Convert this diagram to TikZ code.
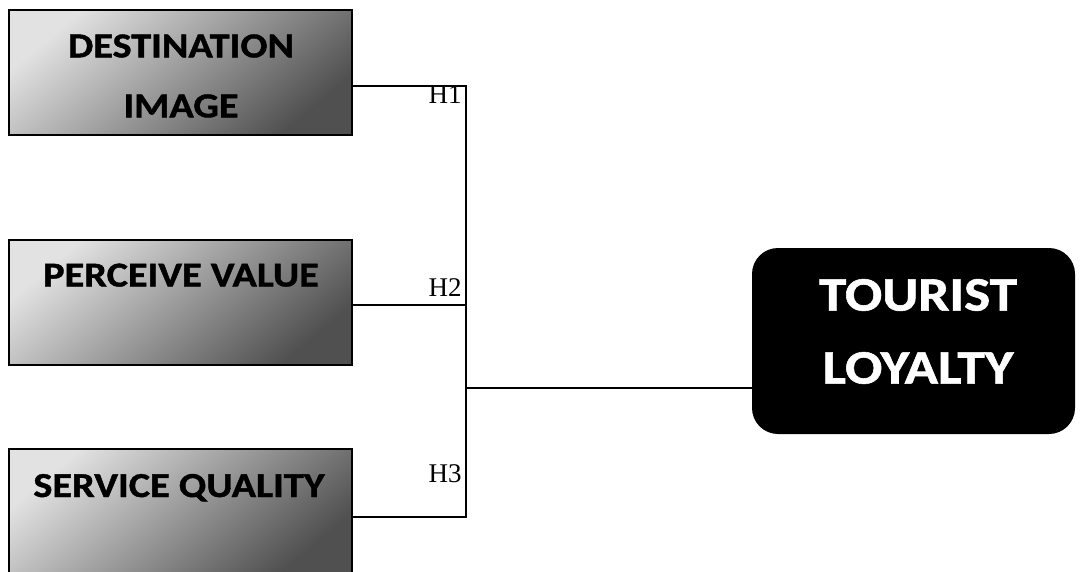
\documentclass[tikz,border=0pt]{standalone}
\usepackage{fontspec}
\usepackage{tikz}
\newfontfamily\boxfont[FakeStretch=1.15,BoldFeatures={FakeBold=1.2}]{Carlito}
\newfontfamily\hfont{Liberation Serif}
\definecolor{shadelo}{RGB}{226,226,226}
\definecolor{shadehi}{RGB}{80,80,80}

\begin{document}
\begin{tikzpicture}[x=.5pt,y=-.5pt,
  factor/.style={draw,line width=1pt,minimum width=171.5pt,minimum height=62.5pt,inner sep=0,
    left color=shadelo,middle color=shadelo!92!black,right color=shadehi,shading angle=40},
  factortxt/.style={font={\boxfont\bfseries\fontsize{17.5}{30}\selectfont},align=center,inner sep=0},
  hyp/.style={font={\hfont\fontsize{13.5}{14}\selectfont},inner sep=0,anchor=east},
  link/.style={line width=1pt}]
\useasboundingbox (0,0) rectangle (1080,572);
\node[factor] (img) at (180.5,72.5) {};
\node[factor] (val) at (180.5,302.5) {};
\node[factor] (svc) at (180,511) {};
\node[factortxt] (imgtxt) at (181,76) {DESTINATION\\IMAGE};
\node[factortxt,anchor=base] (valtxt) at (181,286.5) {PERCEIVE VALUE};
\node[factortxt,anchor=base] (svctxt) at (179,497) {SERVICE QUALITY};
\node[fill=black,rounded corners=13pt,minimum width=161.5pt,minimum height=93pt] (loy) at (913.5,341) {};
\node[font={\boxfont\bfseries\fontsize{24}{36.5}\selectfont},text=white,align=center,inner sep=0] (loytxt) at (918,331.5) {TOURIST\\LOYALTY};
\coordinate (j1) at (466,86);
\coordinate (j2) at (466,305);
\coordinate (j3) at (466,517);
\coordinate (jm) at (466,388);
\draw[link] (img.east |- j1) -- (j1) -- (j3) -- (svc.east |- j3);
\draw[link] (val.east |- j2) -- (j2);
\draw[link] (jm) -- (loy.west |- jm);
\node[hyp] (h1) at (462,95) {H1};
\node[hyp] (h2) at (462,288) {H2};
\node[hyp] (h3) at (462,474) {H3};
\end{tikzpicture}
\end{document}
